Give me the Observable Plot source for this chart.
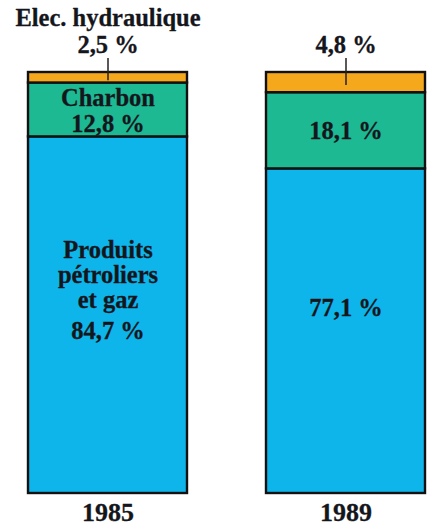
<!DOCTYPE html>
<html>
<head>
<meta charset="utf-8">
<script src="https://cdn.jsdelivr.net/npm/d3@7"></script>
<script src="https://cdn.jsdelivr.net/npm/@observablehq/plot@0.6"></script>
<style>
  html, body { margin: 0; padding: 0; background: #fff; }
</style>
</head>
<body>
<div id="chart"></div>
<script>
const years = ["1985", "1989"];
const categories = ["Produits pétroliers et gaz", "Charbon", "Elec. hydraulique"];
const petrole = [84.7, 77.1];
const charbon = [12.8, 18.1];
const hydro = [2.5, 4.8];
const valueLabels = {
  petrole: ["84,7 %", "77,1 %"],
  charbon: ["12,8 %", "18,1 %"],
  hydro: ["2,5 %", "4,8 %"]
};
const colors = ["#0db5ea", "#1cb993", "#f5a81c"];

const series = [petrole, charbon, hydro];
const data = [];
years.forEach((yr, i) => {
  series.forEach((s, k) => data.push({year: yr, cat: categories[k], value: s[i]}));
});

const font = "Liberation Serif";
const ink = "#15161c";

// segment midpoints derived from data
const midPetrole = years.map((yr, i) => ({year: yr, y: petrole[i] / 2, i}));
const midCharbon = years.map((yr, i) => ({year: yr, y: petrole[i] + charbon[i] / 2, i}));
const midHydro = years.map((yr, i) => ({year: yr, y: petrole[i] + charbon[i] + hydro[i] / 2, i}));
const tops = years.map((yr, i) => ({year: yr, y: petrole[i] + charbon[i] + hydro[i], i}));

const txt = {fontFamily: font, fontWeight: "bold", fill: ink, stroke: ink, strokeWidth: 0.3, fontSize: 24.5};

const chart = Plot.plot({
  width: 428,
  height: 526,
  margin: 0,
  x: {domain: years, range: [28, 425.5], paddingInner: 1/3, paddingOuter: 0, axis: null},
  y: {domain: [0, 100], range: [493, 72], axis: null},
  color: {domain: categories, range: colors},
  marks: [
    Plot.barY(data, {x: "year", y: "value", fill: "cat", stroke: "#111", strokeWidth: 2.4}),
    // pointer ticks to the hydro segment
    Plot.ruleX(midHydro, {x: "year", y1: d => tops[d.i].y, y2: "y", insetTop: -14, insetBottom: -3, stroke: "#222", strokeWidth: 1.5}),
    Plot.text(midHydro, {x: "year", y: d => tops[d.i].y, dy: -27.5, text: d => valueLabels.hydro[d.i], ...txt}),
    Plot.text([tops[0]], {x: "year", y: "y", dy: -54.8, text: () => categories[2], ...txt, letterSpacing: "0.5px"}),
    // charbon
    Plot.text([midCharbon[0]], {x: "year", y: "y", dy: 0.7, text: d => categories[1] + "\n" + valueLabels.charbon[d.i], lineHeight: 1.06, ...txt}),
    Plot.text([midCharbon[1]], {x: "year", y: "y", dy: 0.2, text: d => valueLabels.charbon[d.i], ...txt}),
    // petrole
    Plot.text([midPetrole[0]], {x: "year", y: "y", dy: -40.5, text: () => "Produits\npétroliers\net gaz", lineHeight: 1.02, ...txt}),
    Plot.text([midPetrole[0]], {x: "year", y: "y", dy: 15.5, text: d => valueLabels.petrole[d.i], ...txt}),
    Plot.text([midPetrole[1]], {x: "year", y: "y", dy: -23.5, text: d => valueLabels.petrole[d.i], ...txt}),
    // years
    Plot.text(years, {x: d => d, y: 0, dy: 19.4, text: d => d, ...txt, fontSize: 26})
  ]
});
document.getElementById("chart").appendChild(chart);
</script>
</body>
</html>
